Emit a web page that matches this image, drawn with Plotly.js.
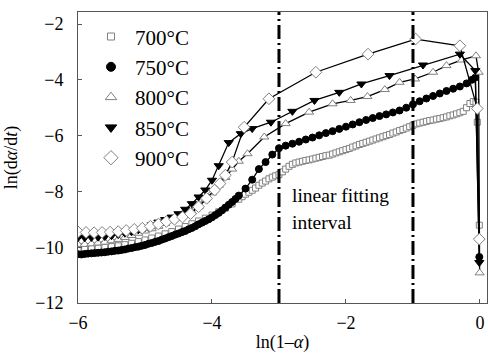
<!DOCTYPE html>
<html>
<head>
<meta charset="utf-8">
<script src="https://cdn.plot.ly/plotly-3.0.1.min.js"></script>
<style>html,body{margin:0;padding:0;background:#fff;}#chart{width:488px;height:353px;}</style>
</head>
<body>
<div id="chart"></div>
<script>
// ---- data ----
const seriesNames = ["700°C", "750°C", "800°C", "850°C", "900°C"];

const x700 = [-6.0,-5.9,-5.8,-5.7,-5.6,-5.5,-5.4,-5.3,-5.2,-5.1,-5.0,-4.9,-4.8,-4.7,-4.6,-4.5,-4.4,-4.3,-4.2,-4.1,-4.0,-3.9,-3.8,-3.7,-3.6,
  -3.55,-3.5,-3.45,-3.4,-3.35,-3.3,-3.25,-3.2,-3.15,-3.1,-3.05,-3.0,-2.95,-2.9,-2.85,-2.8,-2.75,-2.7,-2.65,-2.6,-2.55,-2.5,-2.45,-2.4,-2.35,-2.3,-2.25,-2.2,-2.15,-2.1,-2.05,-2.0,
  -1.95,-1.9,-1.85,-1.8,-1.75,-1.7,-1.65,-1.6,-1.55,-1.5,-1.45,-1.4,-1.35,-1.3,-1.25,-1.2,-1.15,-1.1,-1.05,-1.0,-0.95,-0.9,-0.85,-0.8,-0.75,-0.7,-0.65,-0.6,-0.55,-0.5,
  -0.45,-0.4,-0.35,-0.3,-0.25,-0.2,-0.15,-0.1,-0.06,-0.04,-0.01];
const y700 = [-10.05,-10.05,-10.04,-10.03,-10.01,-9.98,-9.95,-9.91,-9.86,-9.80,-9.74,-9.67,-9.60,-9.52,-9.44,-9.35,-9.26,-9.16,-9.06,-8.96,-8.85,-8.73,-8.60,-8.45,-8.28,
  -8.19,-8.10,-8.03,-7.96,-7.88,-7.78,-7.70,-7.63,-7.55,-7.49,-7.44,-7.40,-7.30,-7.20,-7.10,-7.03,-6.98,-6.95,-6.92,-6.89,-6.87,-6.84,-6.81,-6.78,-6.75,-6.72,-6.70,-6.66,-6.62,-6.58,-6.54,-6.50,
  -6.46,-6.41,-6.37,-6.32,-6.28,-6.24,-6.20,-6.16,-6.12,-6.08,-6.04,-6.00,-5.96,-5.91,-5.87,-5.82,-5.78,-5.73,-5.68,-5.63,-5.58,-5.55,-5.52,-5.49,-5.46,-5.44,-5.41,-5.39,-5.36,-5.33,
  -5.29,-5.26,-5.22,-5.18,-5.13,-5.00,-4.85,-4.78,-4.80,-5.52,-9.21];

const x750 = [-6.0,-5.95,-5.9,-5.85,-5.8,-5.75,-5.7,-5.65,-5.6,-5.55,-5.5,-5.45,-5.4,-5.35,-5.3,-5.25,-5.2,-5.15,-5.1,-5.05,-5.0,-4.95,-4.9,-4.85,-4.8,-4.75,-4.7,-4.65,-4.6,-4.55,-4.5,
  -4.45,-4.4,-4.35,-4.3,-4.25,-4.2,-4.15,-4.1,-4.05,-4.0,-3.95,-3.9,-3.85,-3.8,-3.75,-3.7,-3.65,-3.6,
  -3.5,-3.4,-3.3,-3.2,-3.1,-3.0,-2.9,-2.8,-2.7,-2.6,-2.5,-2.4,-2.3,-2.2,-2.1,-2.0,-1.9,-1.8,-1.7,-1.6,-1.5,-1.4,-1.3,-1.2,-1.1,-1.0,-0.9,-0.8,-0.7,-0.6,-0.5,-0.4,-0.3,-0.2,-0.12,-0.07,-0.01];
const y750 = [-10.25,-10.26,-10.24,-10.23,-10.22,-10.21,-10.20,-10.19,-10.18,-10.16,-10.15,-10.13,-10.12,-10.10,-10.08,-10.05,-10.03,-10.00,-9.98,-9.95,-9.92,-9.88,-9.85,-9.81,-9.78,-9.73,-9.69,-9.64,-9.60,-9.55,-9.51,
  -9.46,-9.42,-9.36,-9.31,-9.25,-9.18,-9.12,-9.06,-9.00,-8.93,-8.85,-8.77,-8.68,-8.58,-8.48,-8.38,-8.27,-8.15,
  -7.90,-7.58,-7.20,-6.95,-6.68,-6.45,-6.36,-6.29,-6.22,-6.14,-6.07,-5.99,-5.91,-5.84,-5.76,-5.68,-5.60,-5.52,-5.44,-5.37,-5.30,-5.24,-5.17,-5.10,-5.00,-4.88,-4.77,-4.67,-4.58,-4.49,-4.40,-4.32,-4.24,-4.13,-4.00,-3.92,-10.35];

const x800 = [-6.0,-5.9,-5.8,-5.7,-5.6,-5.5,-5.4,-5.3,-5.2,-5.1,-5.0,-4.9,-4.8,-4.7,-4.6,-4.5,-4.4,-4.3,-4.2,-4.1,-4.0,-3.9,-3.8,-3.7,-3.6,
  -3.47,-3.22,-2.90,-2.55,-2.20,-1.93,-1.68,-1.42,-1.20,-0.97,-0.70,-0.50,-0.27,-0.06,-0.02,-0.005];
const y800 = [-9.90,-9.90,-9.88,-9.85,-9.82,-9.77,-9.72,-9.65,-9.58,-9.50,-9.42,-9.34,-9.25,-9.15,-9.05,-8.95,-8.85,-8.73,-8.55,-8.30,-8.05,-7.78,-7.50,-7.20,-6.92,
  -6.65,-6.05,-5.57,-5.16,-4.86,-4.74,-4.60,-4.35,-4.09,-3.97,-3.73,-3.49,-3.29,-3.14,-3.73,-10.92];

const x850 = [-6.0,-5.9,-5.8,-5.7,-5.6,-5.5,-5.4,-5.3,-5.2,-5.1,-5.0,-4.9,-4.8,-4.7,-4.6,-4.5,-4.4,-4.3,-4.2,-4.1,-4.0,-3.9,
  -3.75,-3.57,-3.40,-3.12,-2.80,-2.47,-2.10,-1.77,-1.35,-0.85,-0.30,-0.07,-0.01];
const y850 = [-9.66,-9.66,-9.65,-9.64,-9.62,-9.59,-9.55,-9.50,-9.45,-9.38,-9.30,-9.20,-9.10,-9.01,-8.92,-8.80,-8.64,-8.44,-8.20,-7.95,-7.60,-7.08,
  -6.25,-5.93,-5.75,-5.52,-5.13,-4.74,-4.45,-4.15,-3.85,-3.47,-3.08,-3.67,-10.55];

const x900 = [-6.00,-5.88,-5.76,-5.64,-5.52,-5.40,-5.28,-5.16,-5.04,-4.92,-4.80,-4.68,-4.56,-4.44,-4.32,-4.20,-4.08,-3.96,-3.88,-3.80,-3.70,
  -3.52,-3.15,-2.45,-1.67,-0.96,-0.30,-0.04,-0.01];
const y900 = [-9.45,-9.47,-9.48,-9.47,-9.46,-9.44,-9.40,-9.36,-9.32,-9.25,-9.17,-9.08,-9.00,-8.92,-8.80,-8.55,-8.25,-7.95,-7.72,-7.42,-6.95,
  -5.70,-4.68,-3.73,-3.08,-2.54,-2.78,-5.03,-9.71];

const fitBounds = [-3, -1];
const noteLines = ["linear fitting", "interval"];
const xTickVals = [-6, -4, -2, 0];
const yTickVals = [-12, -10, -8, -6, -4, -2];

// ---- styling ----
const SERIF = "'Liberation Serif', 'Times New Roman', serif";
const GRAY = "#808080";
const styles = [
  {symbol: "square",        color: "#ffffff", lc: GRAY,   size: 6, lsize: 7},
  {symbol: "circle",        color: "#000000", lc: "#000", size: 7, lsize: 9},
  {symbol: "triangle-up",   color: "#ffffff", lc: GRAY,   size: 8, lsize: 10},
  {symbol: "triangle-down", color: "#000000", lc: "#000", size: 8, lsize: 10},
  {symbol: "diamond",       color: "#ffffff", lc: GRAY,   size: 9, lsize: 11}
];
const xs = [x700, x750, x800, x850, x900];
const ys = [y700, y750, y800, y850, y900];

const traces = [];
xs.forEach((xv, i) => {
  const s = styles[i];
  traces.push({
    x: xv, y: ys[i], type: "scatter", mode: "lines+markers", showlegend: false,
    line: {color: "#000", width: 1.3},
    marker: {symbol: s.symbol, size: s.size, color: s.color, line: {color: s.lc, width: 1}}
  });
});
seriesNames.forEach((name, i) => {
  const s = styles[i];
  traces.push({
    x: [null], y: [null], type: "scatter", mode: "markers", name: name, legendgroup: "g" + i,
    marker: {symbol: s.symbol, size: s.lsize, color: s.color, line: {color: s.lc, width: 1}}
  });
});

const shapes = fitBounds.map(xv => ({
  type: "line", xref: "x", yref: "paper", x0: xv, x1: xv, y0: 0, y1: 1,
  line: {color: "#000", width: 3, dash: "14px,4px,2px,4px"}
}));

const annotations = [
  {x: -2.84, y: -8.15, text: noteLines[0]},
  {x: -2.84, y: -9.12, text: noteLines[1]}
].map(a => Object.assign({xref: "x", yref: "y", xanchor: "left", yanchor: "middle", showarrow: false,
  font: {family: SERIF, size: 19.5, color: "#000"}}, a));

const tickFont = {family: "Liberation Serif", size: 18, color: "#000"};
const axisCommon = {
  showgrid: false, zeroline: false, showline: true, linecolor: "#555", linewidth: 1, mirror: true,
  ticks: "inside", ticklen: 4, tickcolor: "#555"
};

const layout = {
  width: 488, height: 353,
  margin: {l: 78, r: 1, t: 12, b: 50, pad: 0},
  paper_bgcolor: "#fff", plot_bgcolor: "#fff",
  font: {family: SERIF, color: "#000"},
  showlegend: true,
  legend: {x: 0.022, y: 0.985, xanchor: "left", yanchor: "top", bgcolor: "rgba(0,0,0,0)",
    font: {family: SERIF, size: 21, color: "#000"}, tracegroupgap: 0, itemwidth: 38},
  xaxis: Object.assign({}, axisCommon, {
    range: [-6, 0.105], tickvals: xTickVals, ticklabelstandoff: 3, tickfont: Object.assign({}, tickFont),
    title: {text: "ln(1–<i>α</i>)", font: {family: SERIF, size: 18, color: "#000"}, standoff: 6}
  }),
  yaxis: Object.assign({}, axisCommon, {
    range: [-12, -1.57], tickvals: yTickVals, ticklabelstandoff: 10, tickfont: Object.assign({}, tickFont),
    title: {text: "ln(d<i>α</i>/d<i>t</i>)", font: {family: SERIF, size: 18, color: "#000"}, standoff: 12}
  }),
  shapes: shapes,
  annotations: annotations
};

Plotly.newPlot("chart", traces, layout, {staticPlot: true, displayModeBar: false});
</script>
</body>
</html>
